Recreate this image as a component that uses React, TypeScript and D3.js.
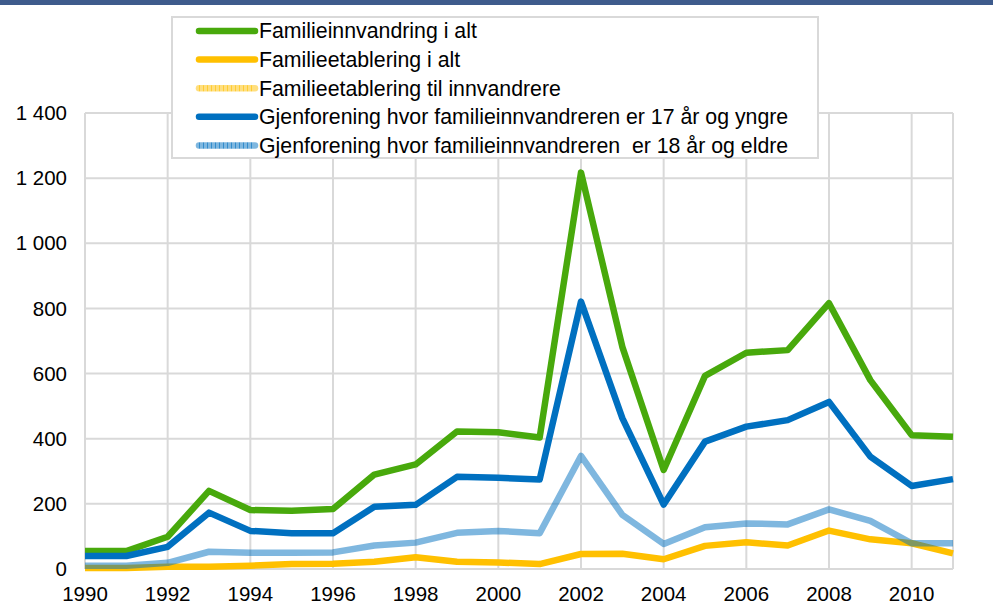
import React, { useEffect, useRef } from 'react';
import * as d3 from 'd3';

// years on the x axis
const years = [
  1990, 1991, 1992, 1993, 1994, 1995, 1996, 1997, 1998, 1999, 2000,
  2001, 2002, 2003, 2004, 2005, 2006, 2007, 2008, 2009, 2010, 2011,
];

// Familieinnvandring i alt
const totalFamily = [55, 55, 99, 240, 181, 179, 184, 290, 321, 422, 420, 404, 1217, 682, 304, 593, 664, 672, 816, 580, 411, 406];
// Familieetablering i alt
const establishment = [3, 3, 7, 7, 10, 15, 16, 22, 36, 22, 20, 15, 46, 47, 30, 71, 82, 72, 118, 91, 79, 48];
// Gjenforening, 17 år og yngre
const reunionYoung = [40, 40, 68, 173, 117, 110, 110, 191, 197, 283, 280, 275, 821, 463, 198, 391, 437, 457, 513, 345, 255, 276];
// Gjenforening, 18 år og eldre
const reunionOld = [10, 10, 19, 53, 50, 50, 51, 72, 81, 111, 117, 110, 347, 166, 77, 128, 140, 137, 183, 148, 79, 79];

const yTicks = [0, 200, 400, 600, 800, 1000, 1200, 1400];
const xTicks = [1990, 1992, 1994, 1996, 1998, 2000, 2002, 2004, 2006, 2008, 2010];

interface Series {
  name: string;
  color: string;
  opacity: number;
  hatch: boolean;
  values: number[] | null;
}

const series: Series[] = [
  { name: 'Familieinnvandring i alt', color: '#48a90c', opacity: 1, hatch: false, values: totalFamily },
  { name: 'Familieetablering i alt', color: '#ffc000', opacity: 1, hatch: false, values: establishment },
  { name: 'Familieetablering til innvandrere', color: '#ffc000', opacity: 0.5, hatch: true, values: null },
  { name: 'Gjenforening hvor familieinnvandreren er 17 år og yngre', color: '#0070c0', opacity: 1, hatch: false, values: reunionYoung },
  { name: 'Gjenforening hvor familieinnvandreren  er 18 år og eldre', color: '#0070c0', opacity: 0.5, hatch: true, values: reunionOld },
];

const App = () => {
  const ref = useRef<SVGSVGElement>(null);

  useEffect(() => {
    if (ref.current) draw();
  }, []);

  const draw = () => {
    const svg = d3.select(ref.current);
    svg.selectAll('*').remove();

    const font = '"Liberation Sans", Arial, sans-serif';
    const grid = '#d9d9d9';

    // top banner line
    svg.append('rect')
      .attr('x', 0).attr('y', 0)
      .attr('width', 993).attr('height', 5)
      .attr('fill', '#3e5b8c');

    const x = d3.scaleLinear().domain([1990, 2011]).range([85, 953]);
    const y = d3.scaleLinear().domain([0, 1400]).range([569, 113]);

    // gridlines
    svg.append('g')
      .selectAll('line')
      .data(yTicks)
      .enter()
      .append('line')
      .attr('x1', x(1990)).attr('x2', x(2011))
      .attr('y1', d => y(d)).attr('y2', d => y(d))
      .attr('stroke', grid).attr('stroke-width', 2);

    svg.append('g')
      .selectAll('line')
      .data([...xTicks, 2011])
      .enter()
      .append('line')
      .attr('x1', d => x(d)).attr('x2', d => x(d))
      .attr('y1', y(0)).attr('y2', y(1400))
      .attr('stroke', grid).attr('stroke-width', 2);

    // y labels
    const fmt = (v: number) => d3.format(',')(v).replace(',', ' ');
    svg.append('g')
      .selectAll('text')
      .data(yTicks)
      .enter()
      .append('text')
      .attr('x', 67)
      .attr('y', d => y(d))
      .attr('dy', '0.35em')
      .attr('text-anchor', 'end')
      .style('font-family', font)
      .style('font-size', '20.5px')
      .text(d => fmt(d));

    // x labels
    svg.append('g')
      .selectAll('text')
      .data(xTicks)
      .enter()
      .append('text')
      .attr('x', d => x(d))
      .attr('y', 601)
      .attr('text-anchor', 'middle')
      .style('font-family', font)
      .style('font-size', '20.5px')
      .text(d => d);

    // lines
    const line = d3.line<number>()
      .x((_, i) => x(years[i]))
      .y(d => y(d));

    series.forEach(s => {
      if (!s.values) return;
      svg.append('path')
        .datum(s.values)
        .attr('fill', 'none')
        .attr('stroke', s.color)
        .attr('stroke-opacity', s.opacity)
        .attr('stroke-width', 6.5)
        .attr('stroke-linejoin', 'round')
        .attr('d', line);
    });

    // legend
    const lg = svg.append('g');
    lg.append('rect')
      .attr('x', 172).attr('y', 17)
      .attr('width', 646).attr('height', 141)
      .attr('fill', '#fff')
      .attr('stroke', grid).attr('stroke-width', 2);

    series.forEach((s, i) => {
      const cy = 31 + i * 28.6;
      lg.append('line')
        .attr('x1', 199).attr('x2', 255)
        .attr('y1', cy).attr('y2', cy)
        .attr('stroke', s.color)
        .attr('stroke-opacity', s.opacity)
        .attr('stroke-width', 6.5)
        .attr('stroke-linecap', 'round');
      if (s.hatch) {
        lg.append('line')
          .attr('x1', 199).attr('x2', 255)
          .attr('y1', cy).attr('y2', cy)
          .attr('stroke', s.color)
          .attr('stroke-width', 6)
          .attr('stroke-dasharray', '1 3')
          .attr('stroke-opacity', 0.6);
      }
      lg.append('text')
        .attr('x', 259)
        .attr('y', cy)
        .attr('dy', '0.35em')
        .style('font-family', font)
        .style('font-size', '21.3px')
        .style('white-space', 'pre')
        .text(s.name);
    });
  };

  return (
    <div style={{ position: 'absolute', left: 0, top: 0 }}>
      <svg ref={ref} width={993} height={612} style={{ display: 'block', background: '#fff' }} />
    </div>
  );
};

export default App;
